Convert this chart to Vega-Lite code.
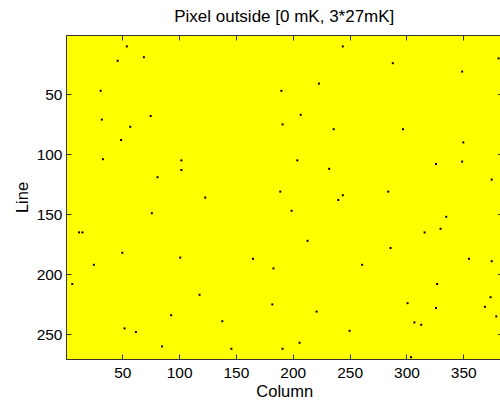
{
  "$schema": "https://vega.github.io/schema/vega-lite/v6.json",
  "width": 436.5,
  "height": 324,
  "autosize": {"type": "none"},
  "padding": {"left": 66, "top": 35, "right": 0, "bottom": 44},
  "background": "white",
  "title": {"text": "Pixel outside [0 mK, 3*27mK]", "font": "Liberation Sans", "fontSize": 17, "fontWeight": "normal", "color": "black", "anchor": "middle", "offset": 9},
  "config": {
    "view": {"fill": "#FFFF00", "stroke": "#333333", "strokeWidth": 1},
    "axis": {"grid": false, "labelFont": "Liberation Sans", "labelFontSize": 15.5, "labelColor": "black", "titleFont": "Liberation Sans", "titleFontSize": 16.5, "titleFontWeight": "normal", "titleColor": "black", "domainColor": "#333333", "tickColor": "#333333", "tickSize": -5, "labelPadding": 11}
  },
  "data": {"values": [
    {"col": 54, "line": 10}, {"col": 69, "line": 19}, {"col": 46, "line": 22}, {"col": 31, "line": 47},
    {"col": 32, "line": 71}, {"col": 75, "line": 68}, {"col": 57, "line": 77}, {"col": 49, "line": 88},
    {"col": 244, "line": 10}, {"col": 223, "line": 41}, {"col": 190, "line": 47}, {"col": 207, "line": 67},
    {"col": 191, "line": 75}, {"col": 236, "line": 79}, {"col": 288, "line": 24}, {"col": 349, "line": 31},
    {"col": 381, "line": 20}, {"col": 297, "line": 79}, {"col": 33, "line": 104}, {"col": 102, "line": 105},
    {"col": 102, "line": 113}, {"col": 81, "line": 119}, {"col": 123, "line": 136}, {"col": 76, "line": 149},
    {"col": 15, "line": 165}, {"col": 12, "line": 165}, {"col": 204, "line": 105}, {"col": 232, "line": 112},
    {"col": 189, "line": 131}, {"col": 244, "line": 134}, {"col": 240, "line": 138}, {"col": 199, "line": 147},
    {"col": 213, "line": 172}, {"col": 350, "line": 90}, {"col": 349, "line": 106}, {"col": 326, "line": 108},
    {"col": 375, "line": 121}, {"col": 284, "line": 131}, {"col": 335, "line": 152}, {"col": 330, "line": 162},
    {"col": 316, "line": 165}, {"col": 286, "line": 178}, {"col": 50, "line": 182}, {"col": 101, "line": 186},
    {"col": 25, "line": 192}, {"col": 6, "line": 208}, {"col": 118, "line": 217}, {"col": 93, "line": 234},
    {"col": 52, "line": 245}, {"col": 62, "line": 248}, {"col": 85, "line": 260}, {"col": 165, "line": 187},
    {"col": 183, "line": 195}, {"col": 182, "line": 225}, {"col": 221, "line": 231}, {"col": 138, "line": 239},
    {"col": 250, "line": 247}, {"col": 206, "line": 257}, {"col": 146, "line": 262}, {"col": 191, "line": 262},
    {"col": 355, "line": 187}, {"col": 375, "line": 189}, {"col": 261, "line": 192}, {"col": 327, "line": 208},
    {"col": 374, "line": 219}, {"col": 301, "line": 224}, {"col": 326, "line": 228}, {"col": 369, "line": 227},
    {"col": 379, "line": 235}, {"col": 307, "line": 240}, {"col": 313, "line": 242}, {"col": 304, "line": 269}
  ]},
  "resolve": {"axis": {"x": "independent", "y": "independent"}},
  "layer": [
    {
      "mark": {"type": "square", "color": "black", "size": 4, "opacity": 1},
      "encoding": {
        "x": {"field": "col", "type": "quantitative", "scale": {"domain": [0.5, 384.5], "nice": false, "zero": false},
              "axis": {"title": "Column", "orient": "bottom", "values": [50, 100, 150, 200, 250, 300, 350], "labelPadding": 11, "titlePadding": 3}},
        "y": {"field": "line", "type": "quantitative", "scale": {"domain": [0.5, 270.5], "nice": false, "zero": false, "reverse": true},
              "axis": {"title": "Line", "orient": "left", "values": [50, 100, 150, 200, 250], "labelPadding": 9, "titlePadding": 6}}
      }
    },
    {
      "mark": {"type": "square", "color": "black", "size": 4, "opacity": 0},
      "encoding": {
        "x": {"field": "col", "type": "quantitative", "scale": {"domain": [0.5, 384.5], "nice": false, "zero": false},
              "axis": {"title": null, "orient": "top", "labels": false, "values": [50, 100, 150, 200, 250, 300, 350]}},
        "y": {"field": "line", "type": "quantitative", "scale": {"domain": [0.5, 270.5], "nice": false, "zero": false, "reverse": true},
              "axis": {"title": null, "orient": "right", "labels": false, "values": [50, 100, 150, 200, 250]}}
      }
    }
  ]
}
